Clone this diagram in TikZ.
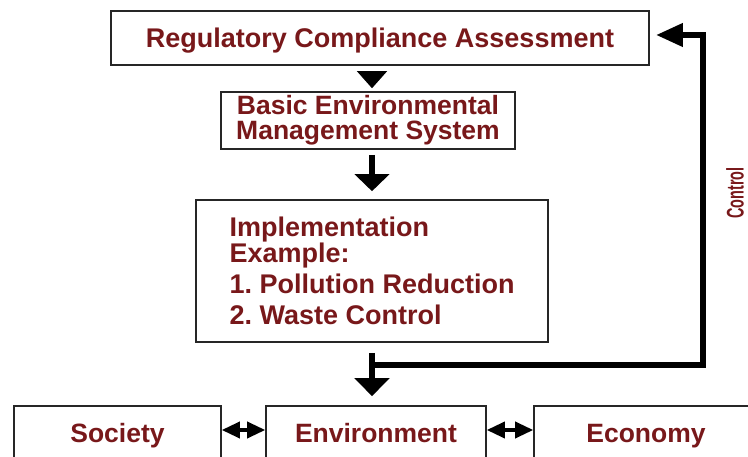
\documentclass[tikz,border=0pt]{standalone}
\usepackage{fontspec}
\setmainfont{Liberation Sans}
\usepackage{graphicx}
\usetikzlibrary{arrows.meta}
\definecolor{txtred}{RGB}{120,24,26}
\frenchspacing
\begin{document}
\begin{tikzpicture}[x=1pt,y=-1pt,
  box/.style={draw=black!85, line width=1.6pt, inner sep=0pt, text=txtred,
    font=\bfseries\fontsize{27}{27}\selectfont},
  onebox/.style={box, text height=19pt, text depth=0pt},
  bottombox/.style={onebox, minimum width=#1, minimum height=54pt,
    font=\bfseries\fontsize{26.5}{26.5}\selectfont},
  flow/.style={line width=6.5pt, -{Triangle[length=18pt,width=34pt]}},
  dbl/.style={line width=3.5pt, {Triangle[length=18pt,width=16pt]}-{Triangle[length=18pt,width=16pt]}},
  lbl/.style={text=txtred, inner sep=0pt}
]
\useasboundingbox (0,0) rectangle (748,457);

\node[onebox, minimum width=538pt, minimum height=54pt] (rca) at (380,38) {Regulatory Compliance Assessment};
\node[box, minimum width=294pt, minimum height=57pt, align=center,
  font=\bfseries\fontsize{26.5}{25}\selectfont] (bems) at (368,120.5) {Basic Environmental\\Management System};
\node[box, minimum width=352pt, minimum height=142pt, align=left,
  font=\bfseries\fontsize{27}{31}\selectfont] (impl) at (372,271)
  {Implementation\\[-5pt]Example:\\1. Pollution Reduction\\2. Waste Control};

\node[bottombox=207pt] (soc) at (117.5,433) {Society};
\node[bottombox=220pt] (env) at (376,433) {Environment};
\node[bottombox=224pt] (eco) at (646,433) {Economy};

% flow arrows
\draw[line width=1pt, -{Triangle[length=17pt,width=30pt]}, shorten <=7pt, shorten >=3pt]
  (impl.north |- rca.south) -- (impl.north |- bems.north);
\draw[flow, -{Triangle[length=17pt,width=34pt]}, shorten <=5pt, shorten >=8pt]
  (impl.north |- bems.south) -- (impl.north);
\draw[flow, shorten <=10pt, shorten >=9pt] (impl.south) -- (impl.south |- env.north);

% control feedback loop
\coordinate (fb) at (impl.south |- 0,365);
\coordinate (c1) at (703,365);
\coordinate (c2) at (703,35);
\draw[line width=6.5pt, -{Triangle[length=27pt,width=22pt]}, shorten >=6pt]
  (fb) -- (c1) -- (c2) -- (rca.east |- c2);
\node[lbl, rotate=90] (ctl) at (735,193)
  {\scalebox{0.6}[1]{\bfseries\fontsize{24}{24}\selectfont Control}};

% interactions
\draw[dbl] ([yshift=3pt]soc.east) -- ([yshift=3pt]env.west);
\draw[dbl] ([yshift=3pt]env.east) -- ([yshift=3pt]eco.west);
\end{tikzpicture}
\end{document}
